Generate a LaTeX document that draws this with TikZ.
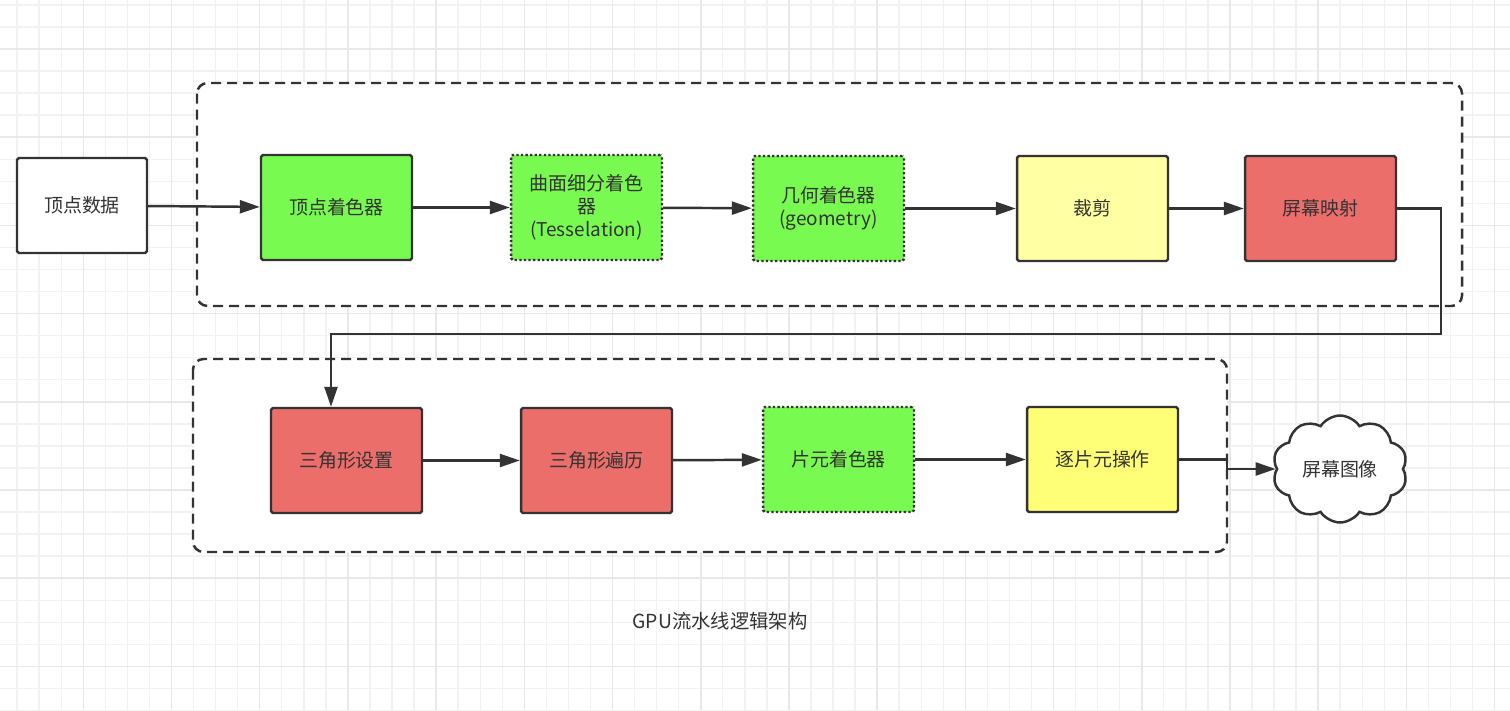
\documentclass[tikz,border=0pt]{standalone}
\usepackage{fontspec}
\setmainfont{Noto Sans CJK SC}
\usetikzlibrary{arrows.meta,shapes.symbols}
\definecolor{linegray}{HTML}{333333}
\definecolor{gridminor}{HTML}{F2F2F2}
\definecolor{gridmajor}{HTML}{E8E8E8}
\definecolor{shadergreen}{HTML}{78FA50}
\definecolor{stagered}{HTML}{EC6E6B}
\definecolor{cliplight}{HTML}{FFFFA3}
\definecolor{fragyellow}{HTML}{FFFF77}

\begin{document}
\begin{tikzpicture}[
    x=0.02cm, y=-0.02cm,
    every node/.style={font=\fontsize{10.8}{13}\selectfont, text=linegray},
    stage/.style={rectangle, draw=linegray, line width=1.4pt, minimum width=3.02cm, minimum height=2.1cm, align=center, inner sep=2pt, rounded corners=1pt},
    plainbox/.style={stage, fill=white, minimum width=2.6cm, minimum height=1.9cm},
    fixedshader/.style={stage, fill=shadergreen},
    optshader/.style={stage, fill=shadergreen, dash pattern=on 1.3pt off 1.3pt},
    rasterbox/.style={stage, fill=stagered},
    clipbox/.style={stage, fill=cliplight},
    fragbox/.style={stage, fill=fragyellow},
    outcloud/.style={cloud, cloud puffs=10, cloud puff arc=115, cloud ignores aspect, draw=linegray, fill=white, line width=1.4pt, minimum width=2.7cm, minimum height=2.14cm},
    group/.style={draw=linegray, fill=white, line width=1.4pt, dash pattern=on 0.2cm off 0.12cm, rounded corners=6pt},
    arrow/.style={-{Triangle[length=0.4cm, width=0.26cm]}, draw=linegray, line width=1.4pt},
]

% Background grid
\useasboundingbox (0,0) rectangle (1510,710);
\fill[white] (0,0) rectangle (1510,710);
\foreach \k in {0,...,68} \draw[gridminor, line width=0.8pt] ({17.15+22.05*\k},0) -- ++(0,710);
\foreach \k in {0,...,32} \draw[gridminor, line width=0.8pt] (0,{4.9+22.05*\k}) -- ++(1510,0);
\foreach \k in {0,...,16} \draw[gridmajor, line width=0.9pt] ({83.3+88.2*\k},0) -- ++(0,710);
\foreach \k in {0,...,7} \draw[gridmajor, line width=0.9pt] (0,{49+88.2*\k}) -- ++(1510,0);

% Stage groups
\draw[group] (197,83) rectangle (1462,306);
\draw[group] (193,359) rectangle (1227,552);

% Input
\node[plainbox] (vdata) at (82,205.5) {顶点数据};

% Geometry stages
\node[fixedshader] (vshader) at (336.5,207.5) {顶点着色器};
\node[optshader] (tess) at (586.5,207.5) {曲面细分着色\\器\\(Tesselation)};
\node[optshader] (geom) at (828.5,208.5) {几何着色器\\(geometry)};
\node[clipbox] (clip) at (1092.5,208.5) {裁剪};
\node[rasterbox] (smap) at (1320.5,208.5) {屏幕映射};

% Raster stages
\node[rasterbox] (tsetup) at (346.5,460.5) {三角形设置};
\node[rasterbox] (ttrav) at (596.5,460.5) {三角形遍历};
\node[optshader] (fshader) at (838.5,459.5) {片元着色器};
\node[fragbox] (perfrag) at (1102.5,459.5) {逐片元操作};

% Output
\node[outcloud] (screen) at (1340,469) {屏幕图像};

% Caption
\node[font=\fontsize{11}{13}\selectfont] (caption) at (720,621) {GPU流水线逻辑架构};

% Arrows
\draw[arrow] (vdata) -- (vshader);
\draw[arrow] (vshader) -- (tess);
\draw[arrow] (tess) -- (geom);
\draw[arrow] (geom) -- (clip);
\draw[arrow] (clip) -- (smap);
\coordinate (wrap) at (1441,334);
\draw[arrow] (smap.east) -| (wrap) -| ([xshift=-0.31cm]tsetup.north);
\draw[arrow] (tsetup) -- (ttrav);
\draw[arrow] (ttrav) -- (fshader);
\draw[arrow] (fshader) -- (perfrag);
\draw[arrow] (perfrag.east) -- ++(48,0) |- (screen.west);

\end{tikzpicture}
\end{document}
